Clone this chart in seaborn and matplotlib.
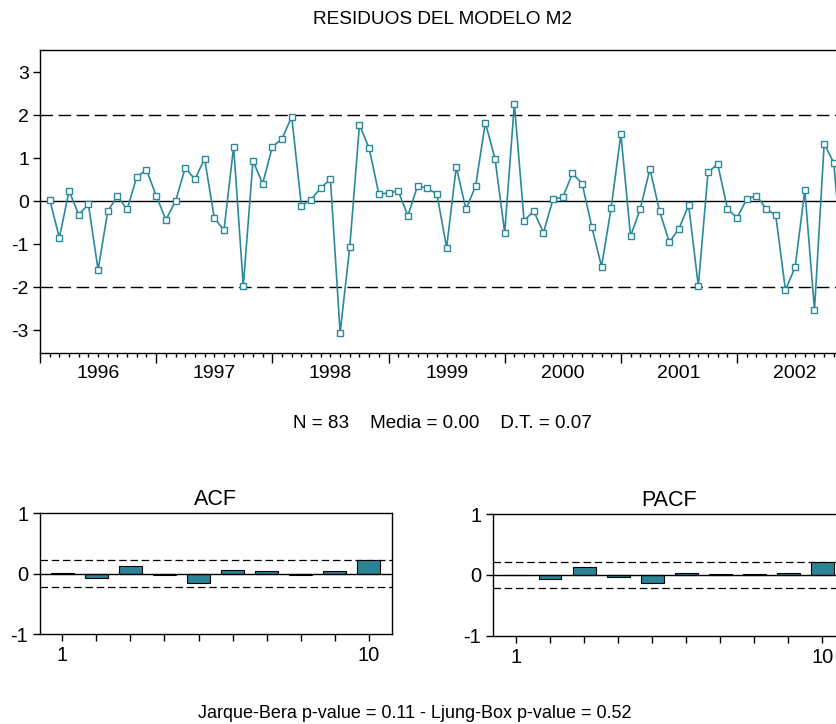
import numpy as np
import pandas as pd
import matplotlib
matplotlib.use("Agg")
import matplotlib.pyplot as plt
import seaborn as sns

# ---------------- data ----------------
resid = [0.04, -0.85, 0.24, -0.31, -0.07, -1.60, -0.23, 0.12, -0.19, 0.57,
         0.73, 0.13, -0.43, 0.00, 0.78, 0.51, 0.99, -0.38, -0.68, 1.27,
         -1.97, 0.94, 0.41, 1.27, 1.45, 1.97, -0.11, 0.04, 0.31, 0.51,
         -3.06, -1.06, 1.78, 1.23, 0.17, 0.19, 0.24, -0.34, 0.36, 0.30,
         0.17, -1.08, 0.80, -0.19, 0.36, 1.83, 0.99, -0.73, 2.27, -0.45,
         -0.23, -0.73, 0.05, 0.09, 0.65, 0.41, -0.60, -1.52, -0.15, 1.56,
         -0.81, -0.18, 0.75, -0.23, -0.95, -0.64, -0.09, -1.97, 0.67, 0.87,
         -0.17, -0.39, 0.05, 0.13, -0.17, -0.33, -2.07, -1.53, 0.26, -2.53,
         1.34, 0.89, -1.80]
years = ["1996", "1997", "1998", "1999", "2000", "2001", "2002"]
lags = [1, 2, 3, 4, 5, 6, 7, 8, 9, 10]
acf = [0.005, -0.07, 0.13, -0.02, -0.15, 0.055, 0.04, -0.03, 0.04, 0.225]
pacf = [0.005, -0.065, 0.125, -0.03, -0.14, 0.04, 0.02, 0.02, 0.04, 0.21]
band = 0.22
y_ticks = [-3, -2, -1, 0, 1, 2, 3]
title = "RESIDUOS DEL MODELO M2"
stats_text = "N = 83    Media = 0.00    D.T. = 0.07"
bottom_text = "Jarque-Bera p-value = 0.11 - Ljung-Box p-value = 0.52"

# ---------------- style ----------------
sns.set_style("ticks")
plt.rcParams["font.family"] = ["Liberation Sans", "DejaVu Sans"]
plt.rcParams["axes.linewidth"] = 1.0
for k in ("text.color", "axes.labelcolor", "xtick.color", "ytick.color",
          "axes.edgecolor"):
    plt.rcParams[k] = "black"

TEAL = "#2a8a9c"
BAR = "#2b8496"

W, H = 837, 724
fig = plt.figure(figsize=(W / 100, H / 100), dpi=100)
fig.patch.set_facecolor("white")


def px_axes(l, t, r, b):
    return fig.add_axes([l / W, 1 - b / H, (r - l) / W, (b - t) / H])


# ---------------- main residual plot ----------------
ax = px_axes(40, 50, 853.8, 352.5)
df = pd.DataFrame({"t": np.arange(len(resid)), "resid": resid})
ax.axhline(0, color="black", lw=1.0, zorder=1)
for v in (2, -2):
    ax.axhline(v, color="black", lw=1.0, ls=(0, (9, 4)), zorder=1)
sns.lineplot(data=df, x="t", y="resid", ax=ax, color=TEAL, lw=1.2,
             marker="s", markersize=5, markerfacecolor="white",
             markeredgecolor=TEAL, markeredgewidth=1.0, zorder=3)
ax.set_xlim(-0.84, 83.06)
ax.set_ylim(-3.52, 3.52)
ax.set_xlabel("")
ax.set_ylabel("")
starts = [-1 + 12 * i for i in range(len(years) + 1)]
ax.set_xticks(starts)
ax.set_xticklabels([])
ax.set_xticks(np.arange(-1, 84), minor=True)
ax.tick_params(axis="x", which="major", length=7, width=1.0, direction="out")
ax.tick_params(axis="x", which="minor", length=3, width=1.0, direction="out")
ax.set_yticks(y_ticks)
ax.set_yticklabels([str(v) for v in y_ticks])
ax.tick_params(axis="y", length=5, width=1.0, direction="out", labelsize=14,
               pad=3)
for i, yr in enumerate(years):
    ax.annotate(yr, xy=(starts[i] + 6, 0), xycoords=("data", "axes fraction"),
                xytext=(0, -21), textcoords="offset pixels",
                ha="center", va="center", fontsize=14)
for s in ax.spines.values():
    s.set_color("black")

fig.text(443 / W, 1 - 20 / H, title, ha="center", va="center", fontsize=13.7)
fig.text(442 / W, 1 - 423 / H, stats_text, ha="center", va="center",
         fontsize=13.6)
fig.text(415 / W, 1 - 713 / H, bottom_text, ha="center", va="center",
         fontsize=13.0)


# ---------------- ACF / PACF ----------------
def corr_panel(axc, vals, name, xlim_left):
    d = pd.DataFrame({"lag": lags, "val": vals})
    sns.barplot(data=d, x="lag", y="val", ax=axc, native_scale=True,
                color=BAR, saturation=1, width=0.67, edgecolor="black",
                linewidth=0.8, zorder=3)
    axc.axhline(0, color="black", lw=1.0, zorder=4)
    for v in (band, -band):
        axc.axhline(v, color="black", lw=0.9, ls=(0, (6, 3)), zorder=2)
    axc.set_xlim(xlim_left, xlim_left + 351.7 / 34.05)
    axc.set_ylim(-1, 1)
    axc.set_xticks(lags)
    axc.set_xticklabels([str(l) if l in (1, 10) else "" for l in lags])
    axc.set_yticks([-1, 0, 1])
    axc.set_yticklabels(["-1", "0", "1"])
    axc.tick_params(axis="both", length=5, width=1.0, direction="out",
                    labelsize=14.5)
    axc.set_xlabel("")
    axc.set_ylabel("")
    axc.set_title(name, fontsize=15.5, pad=6)
    for s in axc.spines.values():
        s.set_color("black")


ax_acf = px_axes(40, 513.3, 391.7, 634)
corr_panel(ax_acf, acf, "ACF", 0.345)
ax_pacf = px_axes(493, 514.3, 844.7, 635.7)
corr_panel(ax_pacf, pacf, "PACF", 0.324)

fig.savefig("out.png", dpi=100, facecolor="white")
